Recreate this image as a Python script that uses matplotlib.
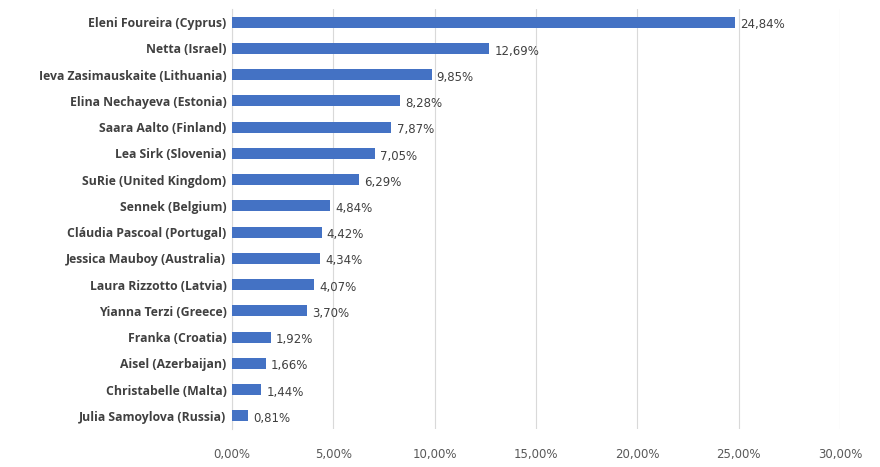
import matplotlib
matplotlib.use("Agg")
import matplotlib.pyplot as plt
from matplotlib.ticker import FuncFormatter

names = ["Eleni Foureira (Cyprus)", "Netta (Israel)", "Ieva Zasimauskaite (Lithuania)",
         "Elina Nechayeva (Estonia)", "Saara Aalto (Finland)", "Lea Sirk (Slovenia)",
         "SuRie (United Kingdom)", "Sennek (Belgium)", "Cláudia Pascoal (Portugal)",
         "Jessica Mauboy (Australia)", "Laura Rizzotto (Latvia)", "Yianna Terzi (Greece)",
         "Franka (Croatia)", "Aisel (Azerbaijan)", "Christabelle (Malta)", "Julia Samoylova (Russia)"]
values = [24.84, 12.69, 9.85, 8.28, 7.87, 7.05, 6.29, 4.84, 4.42, 4.34, 4.07, 3.70, 1.92, 1.66, 1.44, 0.81]
ticks = [0, 5, 10, 15, 20, 25, 30]

fig = plt.figure(figsize=(8.8, 4.67), dpi=100)
ax = fig.add_axes([0.2636, 0.0814, 0.6909, 0.8993])
y = list(range(len(names)))
ax.barh(y, values, height=0.42, color="#4472C4", zorder=3)
ax.set_ylim(len(names) - 0.5, -0.5)
ax.set_xlim(0, 30)
ax.set_yticks(y)
ax.set_yticklabels(names, fontsize=8.8, color="#404040", fontweight="bold", family="Open Sans")
ax.set_xticks(ticks)
ax.xaxis.set_major_formatter(FuncFormatter(lambda v, p: f"{v:.2f}%".replace(".", ",")))
ax.tick_params(axis="x", labelsize=8.5, colors="#595959", length=0, pad=14)
ax.tick_params(axis="y", length=0, pad=4)
ax.grid(axis="x", color="#D9D9D9", linewidth=0.8, zorder=0)
for s in ["top", "right", "bottom"]:
    ax.spines[s].set_visible(False)
ax.spines["left"].set_color("#D9D9D9")
for yi, v in zip(y, values):
    ax.text(v + 0.25, yi + 0.1, f"{v:.2f}%".replace(".", ","), va="center", ha="left",
            fontsize=8.5, color="#404040")
fig.savefig("out.png", dpi=100)
